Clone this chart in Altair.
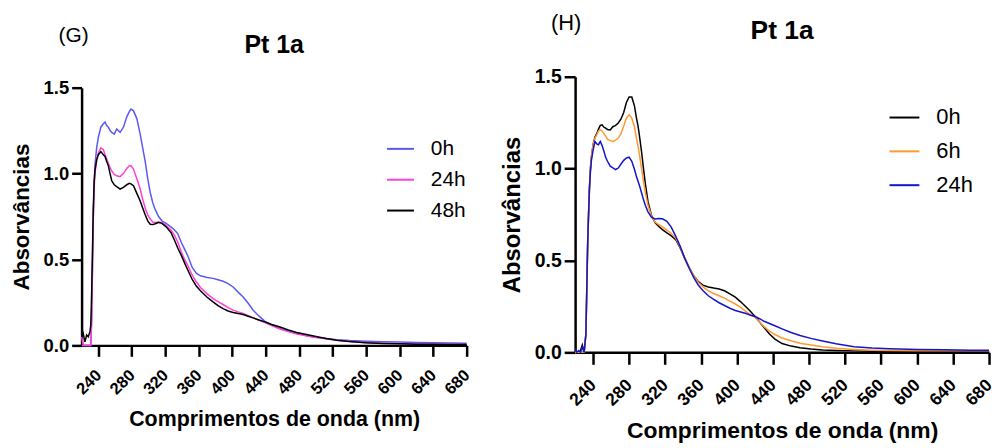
import altair as alt
import pandas as pd

# ---------------- data ----------------
G_NM = [220, 222, 224, 226, 228, 230, 231, 232, 233, 234, 235, 236, 238, 240, 243, 246, 248, 250,
        252, 254, 256, 259, 262, 266, 270, 274, 277, 279, 282, 286, 290, 293, 296, 299, 302, 305,
        308, 312, 316, 321, 327, 331, 335, 339, 343, 347, 352, 357, 362, 370, 377, 383, 389, 395,
        401, 407, 413, 419, 425, 432, 439, 447, 457, 467, 477, 490, 500, 512, 525, 540, 560, 580,
        600, 620, 640, 660, 680]
G_0H = [0.0, 0.0, 0.0, 0.0, 0.0, 0.0, 0.0, 0.15, 0.45, 0.75, 0.95, 1.05, 1.15, 1.21, 1.27, 1.29,
        1.30, 1.28, 1.27, 1.25, 1.24, 1.23, 1.26, 1.24, 1.27, 1.33, 1.36, 1.375, 1.365, 1.32, 1.23,
        1.15, 1.07, 0.97, 0.89, 0.83, 0.79, 0.75, 0.725, 0.71, 0.688, 0.672, 0.649, 0.60, 0.56,
        0.52, 0.455, 0.42, 0.405, 0.395, 0.39, 0.382, 0.373, 0.36, 0.34, 0.31, 0.282, 0.245, 0.205,
        0.17, 0.14, 0.12, 0.098, 0.082, 0.07, 0.055, 0.047, 0.04, 0.033, 0.028, 0.024, 0.021, 0.019,
        0.017, 0.015, 0.014, 0.013]
G_24H = [0.05, 0.0, 0.0, 0.0, 0.0, 0.0, 0.0, 0.15, 0.45, 0.75, 0.92, 1.0, 1.08, 1.12, 1.15, 1.14,
         1.11, 1.085, 1.06, 1.035, 1.016, 0.995, 0.987, 0.982, 1.0, 1.03, 1.045, 1.045, 1.026, 0.97,
         0.91, 0.85, 0.80, 0.76, 0.735, 0.718, 0.715, 0.717, 0.715, 0.698, 0.67, 0.64, 0.60, 0.545,
         0.50, 0.465, 0.41, 0.37, 0.337, 0.30, 0.272, 0.255, 0.238, 0.22, 0.205, 0.195, 0.186, 0.173,
         0.16, 0.146, 0.133, 0.115, 0.095, 0.08, 0.066, 0.055, 0.046, 0.038, 0.03, 0.022, 0.016,
         0.012, 0.01, 0.008, 0.007, 0.006, 0.006]
G_48H = [0.10, 0.07, 0.02, 0.06, 0.05, 0.08, 0.12, 0.3, 0.55, 0.8, 0.95, 1.02, 1.08, 1.11, 1.128,
         1.11, 1.1, 1.07, 1.045, 1.0, 0.958, 0.935, 0.924, 0.91, 0.92, 0.935, 0.943, 0.94, 0.929,
         0.885, 0.84, 0.80, 0.76, 0.725, 0.705, 0.703, 0.708, 0.716, 0.71, 0.69, 0.655, 0.612, 0.565,
         0.525, 0.48, 0.437, 0.385, 0.345, 0.318, 0.28, 0.253, 0.232, 0.214, 0.2, 0.191, 0.185, 0.18,
         0.17, 0.16, 0.148, 0.137, 0.122, 0.107, 0.09, 0.075, 0.062, 0.052, 0.04, 0.03, 0.022, 0.015,
         0.011, 0.009, 0.007, 0.006, 0.005, 0.005]

H_NM = [220, 222, 224, 226, 228, 230, 232, 234, 235, 236, 237, 238, 240, 242, 244, 246, 248, 250,
        252, 254, 256, 259, 262, 265, 268, 271, 274, 277, 280, 283, 286, 288, 290, 292, 294, 296,
        298, 301, 305, 309, 313, 317, 322, 327, 332, 337, 342, 347, 352, 357, 362, 368, 374, 380,
        386, 392, 398, 404, 410, 415, 420, 425, 430, 436, 442, 450, 460, 470, 482, 495, 510, 530,
        550, 570, 600, 630, 660, 680]
H_0H = [0.0, 0.0, 0.0, 0.01, 0.04, 0.0, 0.1, 0.6, 0.76, 0.9, 1.0, 1.06, 1.13, 1.17, 1.19, 1.215,
        1.235, 1.238, 1.225, 1.22, 1.213, 1.21, 1.228, 1.235, 1.248, 1.27, 1.305, 1.36, 1.39, 1.39,
        1.34, 1.28, 1.23, 1.16, 1.085, 1.0, 0.92, 0.82, 0.743, 0.705, 0.685, 0.668, 0.65, 0.634,
        0.612, 0.565, 0.51, 0.46, 0.415, 0.385, 0.366, 0.356, 0.35, 0.345, 0.335, 0.318, 0.3, 0.275,
        0.247, 0.222, 0.195, 0.165, 0.135, 0.1, 0.072, 0.048, 0.034, 0.025, 0.018, 0.013, 0.01,
        0.008, 0.006, 0.005, 0.005, 0.004, 0.004, 0.004]
H_6H = [0.0, 0.0, 0.0, 0.0, 0.0, 0.0, 0.1, 0.6, 0.76, 0.9, 1.0, 1.06, 1.13, 1.165, 1.184, 1.205,
        1.211, 1.205, 1.19, 1.175, 1.16, 1.152, 1.148, 1.155, 1.166, 1.19, 1.232, 1.275, 1.293,
        1.275, 1.225, 1.17, 1.121, 1.06, 0.995, 0.93, 0.87, 0.8, 0.739, 0.708, 0.695, 0.683, 0.665,
        0.647, 0.62, 0.57, 0.51, 0.46, 0.415, 0.38, 0.358, 0.335, 0.32, 0.308, 0.295, 0.279, 0.263,
        0.245, 0.222, 0.205, 0.19, 0.165, 0.14, 0.115, 0.097, 0.078, 0.063, 0.05, 0.04, 0.03, 0.022,
        0.016, 0.012, 0.01, 0.009, 0.008, 0.008, 0.008]
H_24H = [0.02, 0.0, 0.01, 0.0, 0.03, 0.0, 0.1, 0.6, 0.76, 0.9, 0.98, 1.04, 1.10, 1.148, 1.135, 1.13,
         1.148, 1.125, 1.095, 1.06, 1.04, 1.013, 1.004, 0.995, 1.003, 1.025, 1.045, 1.058, 1.062,
         1.04, 0.995, 0.96, 0.93, 0.9, 0.866, 0.83, 0.8, 0.765, 0.734, 0.726, 0.728, 0.727, 0.713,
         0.68, 0.63, 0.575, 0.51, 0.455, 0.405, 0.365, 0.337, 0.308, 0.288, 0.27, 0.255, 0.24,
         0.228, 0.22, 0.211, 0.202, 0.195, 0.183, 0.169, 0.157, 0.145, 0.128, 0.108, 0.092, 0.076,
         0.062, 0.047, 0.031, 0.024, 0.02, 0.016, 0.014, 0.012, 0.011]

G_SERIES = ["0h", "24h", "48h"]
G_COLORS = ["#5a5af2", "#ff3fd8", "#000000"]
H_SERIES = ["0h", "6h", "24h"]
H_COLORS = ["#000000", "#ff9933", "#1515c8"]

X_TICKS = [240, 280, 320, 360, 400, 440, 480, 520, 560, 600, 640, 680]
Y_TICKS = [0.0, 0.5, 1.0, 1.5]
PANEL_TITLE = "Pt 1a"
G_LETTER = "(G)"
H_LETTER = "(H)"
X_TITLE = "Comprimentos de onda (nm)"
Y_TITLE = "Absorvâncias"

FONT = "Liberation Sans"


def long_df(nm, names, series):
    rows = []
    for name, vals in zip(names, series):
        for w, a in zip(nm, vals):
            rows.append({"nm": w, "A": a, "serie": name})
    return pd.DataFrame(rows)


def panel(df, names, colors, letter, p):
    w, h, top = p["w"], p["h"], p["top"]
    x_enc = alt.X(
        "nm:Q",
        scale=alt.Scale(domain=[220, 680], nice=False, zero=False),
        axis=alt.Axis(
            values=X_TICKS, title=X_TITLE, labelAngle=315, labelAlign="right",
            labelBaseline="middle", labelPadding=p["xlp"], labelFontSize=p["xl"],
            tickSize=p["ts"], titleFontSize=p["tf"], titleX=w / 2, titleY=p["xty"],
            titleBaseline="alphabetic", titleAlign="center", labelOverlap=False,
            labelFlush=False, grid=False,
        ),
    )
    y_enc = alt.Y(
        "A:Q",
        scale=alt.Scale(domain=[0, 1.5], range=[h, top], nice=False),
        axis=alt.Axis(
            values=Y_TICKS, format=".1f", title=Y_TITLE, labelFontSize=p["yl"],
            labelPadding=3, tickSize=p["ts"] - 1, titleFontSize=p["ytf"], titleX=p["ytx"],
            titleY=(h + top) / 2, titleAngle=270, titleBaseline="middle",
            titleAlign="center", grid=False,
        ),
    )
    color = alt.Color(
        "serie:N",
        scale=alt.Scale(domain=names, range=colors),
        sort=names,
        legend=alt.Legend(
            title=None, orient="none", legendX=p["lx"], legendY=p["ly"],
            symbolType="stroke", symbolSize=p["ss"], symbolStrokeWidth=2,
            labelFontSize=p["lf"], labelFont=FONT, labelColor="black",
            labelOffset=16, rowPadding=p["rp"], padding=0,
        ),
    )
    lines = alt.Chart(df).mark_line(strokeWidth=1.5).encode(x=x_enc, y=y_enc, color=color)
    ttl = alt.Chart(pd.DataFrame({"t": [PANEL_TITLE]})).mark_text(
        font=FONT, fontSize=p["pf"], fontWeight="bold", align="center",
        baseline="middle", color="black",
    ).encode(text="t:N", x=alt.value(w / 2), y=alt.value(p["pty"]))
    let = alt.Chart(pd.DataFrame({"t": [letter]})).mark_text(
        font=FONT, fontSize=p["gf"], align="center", baseline="middle", color="black",
    ).encode(text="t:N", x=alt.value(p["gx"]), y=alt.value(p["gy"]))
    return alt.layer(lines, ttl, let).properties(width=w, height=h)


left_p = dict(w=387, h=270, top=11, xlp=16, xl=16.5, ts=11, tf=21.5, ytf=22.5, xty=81,
              ytx=-60, yl=18.5, lx=306, ly=58, ss=729, lf=21, rp=6, pf=25, pty=-32, gf=21,
              gx=-8, gy=-41)
right_p = dict(w=416, h=277, top=0, xlp=18, xl=17.5, ts=12, tf=23, ytf=24, xty=86, ytx=-63,
               yl=19.5, lx=315, ly=25, ss=900, lf=22, rp=7, pf=26.5, pty=-46, gf=22,
               gx=-9, gy=-54)

left = panel(long_df(G_NM, G_SERIES, [G_0H, G_24H, G_48H]), G_SERIES, G_COLORS, G_LETTER, left_p)
right = panel(long_df(H_NM, H_SERIES, [H_0H, H_6H, H_24H]), H_SERIES, H_COLORS, H_LETTER, right_p)

chart = (
    alt.hconcat(left, right, spacing=27)
    .resolve_scale(x="independent", y="independent", color="independent")
    .resolve_legend(color="independent")
    .properties(padding={"left": 11, "top": 11, "right": 0, "bottom": 0}, background="white")
    .configure_view(stroke=None)
    .configure_axis(
        domainColor="black", domainWidth=2.5, tickColor="black", tickWidth=2.5,
        labelColor="black", labelFont=FONT, labelFontWeight="bold",
        titleColor="black", titleFont=FONT, titleFontWeight="bold",
    )
)

chart.save("out.html", embed_options={"renderer": "svg", "actions": False})
